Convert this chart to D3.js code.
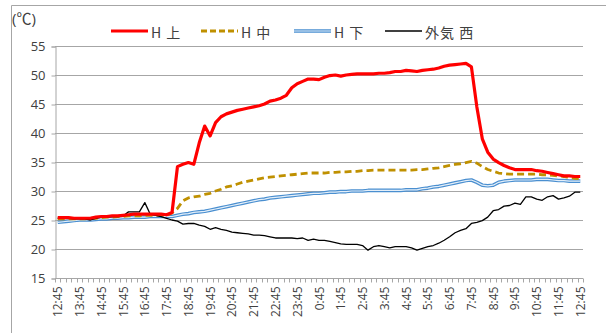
<!DOCTYPE html>
<html><head><meta charset="utf-8">
<script src="https://cdn.jsdelivr.net/npm/d3@7"></script>
<style>body{margin:0;background:#fff}svg{display:block}</style>
</head><body>
<svg id="c" width="606" height="333"></svg>
<script>
// ---- data ----
const seriesNames = ["H 上", "H 中", "H 下", "外気 西"];
const yTicks = [15, 20, 25, 30, 35, 40, 45, 50, 55];
const xTickLabels = ["12:45","13:45","14:45","15:45","16:45","17:45","18:45","19:45","20:45","21:45","22:45","23:45","0:45","1:45","2:45","3:45","4:45","5:45","6:45","7:45","8:45","9:45","10:45","11:45","12:45"];
const hUpper = [25.4,25.4,25.4,25.3,25.3,25.3,25.3,25.5,25.6,25.6,25.7,25.7,25.8,25.9,26.0,26.0,26.0,26.0,26.0,26.0,25.9,26.3,34.2,34.6,34.9,34.6,38.3,41.2,39.5,41.8,42.8,43.3,43.6,43.9,44.1,44.3,44.5,44.7,45.0,45.5,45.7,46.0,46.5,47.8,48.5,48.9,49.3,49.3,49.2,49.6,49.9,50.0,49.8,50.0,50.1,50.2,50.2,50.2,50.2,50.3,50.3,50.4,50.6,50.6,50.8,50.7,50.6,50.8,50.9,51.0,51.2,51.5,51.7,51.8,51.9,52.0,51.4,44.5,39.0,36.7,35.5,34.9,34.4,34.0,33.7,33.7,33.7,33.7,33.5,33.4,33.2,33.0,32.8,32.6,32.6,32.5,32.5];
const hMiddle = [25.2,25.2,25.2,25.2,25.2,25.2,25.3,25.3,25.4,25.5,25.5,25.6,25.6,25.7,25.7,25.7,25.8,25.8,25.8,25.8,25.8,26.2,27.0,28.3,28.8,29.0,29.1,29.4,29.6,30.0,30.3,30.7,30.9,31.2,31.5,31.7,31.9,32.1,32.3,32.4,32.5,32.6,32.7,32.8,32.9,33.0,33.1,33.1,33.1,33.1,33.2,33.2,33.3,33.3,33.4,33.4,33.5,33.5,33.6,33.6,33.6,33.6,33.6,33.6,33.6,33.6,33.7,33.7,33.8,33.9,34.0,34.2,34.4,34.6,34.7,34.9,35.1,34.8,34.2,33.7,33.4,33.1,33.0,32.9,32.9,32.9,32.9,32.9,32.9,32.8,32.8,32.7,32.6,32.5,32.3,32.2,32.1];
const hLower = [24.6,24.7,24.8,24.9,25.0,25.0,25.0,25.1,25.2,25.2,25.3,25.3,25.4,25.4,25.5,25.5,25.5,25.6,25.6,25.6,25.6,25.6,25.8,26.0,26.1,26.3,26.4,26.5,26.7,26.9,27.1,27.3,27.5,27.7,27.9,28.1,28.3,28.5,28.6,28.8,28.9,29.0,29.1,29.2,29.3,29.4,29.5,29.6,29.6,29.7,29.8,29.8,29.9,29.9,30.0,30.0,30.0,30.1,30.1,30.1,30.1,30.1,30.1,30.1,30.2,30.2,30.2,30.4,30.5,30.7,30.8,31.0,31.2,31.4,31.6,31.8,31.9,31.5,31.0,30.9,31.0,31.5,31.7,31.8,31.9,31.9,31.9,31.9,32.0,32.0,32.0,31.9,31.8,31.8,31.7,31.7,31.7];
const outsideWest = [25.3,25.3,25.3,25.2,25.2,25.2,25.0,25.3,25.5,25.5,25.6,25.6,25.7,26.4,26.4,26.4,28.0,26.0,25.8,25.6,25.3,25.0,24.8,24.3,24.4,24.4,24.1,23.9,23.4,23.7,23.4,23.2,22.9,22.8,22.7,22.6,22.4,22.4,22.3,22.1,21.9,21.9,21.9,21.9,21.8,21.9,21.5,21.7,21.5,21.5,21.3,21.1,20.9,20.8,20.8,20.8,20.6,19.8,20.4,20.6,20.4,20.2,20.4,20.4,20.4,20.2,19.8,20.1,20.4,20.6,21.0,21.5,22.1,22.8,23.2,23.5,24.4,24.6,24.9,25.5,26.6,26.8,27.4,27.5,27.9,27.7,29.0,29.0,28.6,28.4,29.0,29.2,28.6,28.8,29.1,29.8,29.8];
// categories: 15-minute steps from 12:45
const categories = [];
for (let i = 0; i < hUpper.length; i++) {
  const m = (12*60 + 45 + i*15) % (24*60);
  categories.push(Math.floor(m/60) + ":" + String(m%60).padStart(2,"0"));
}

// ---- layout ----
const svg = d3.select("#c");
const L = 55, R = 583, T = 46, B = 278;
const x = d3.scaleBand().domain(d3.range(categories.length)).range([L, R]);
const y = d3.scaleLinear().domain([15, 55]).range([B, T]);
const cx = i => x(i) + x.bandwidth()/2;
const FONT = "'Open Sans','Noto Sans CJK JP',sans-serif";
const JFONT = "'Noto Sans CJK JP','Open Sans',sans-serif";

// frame
svg.append("path").attr("d", `M11.5,333 V5.5 H606`).attr("fill","none").attr("stroke","#a6a6a6").attr("stroke-width",1);

// gridlines
svg.append("g").selectAll("line").data(yTicks.filter(v => v > 15)).join("line")
  .attr("x1", L).attr("x2", R).attr("y1", d => Math.round(y(d))+0.5).attr("y2", d => Math.round(y(d))+0.5)
  .attr("stroke", "#a6a6a6").attr("stroke-width", 1);

// y axis
const yAxis = d3.axisLeft(y).tickValues(yTicks).tickSize(4).tickPadding(6);
const gy = svg.append("g").attr("transform", `translate(${L+0.5},0.5)`).call(yAxis);
gy.select(".domain").attr("stroke","#a6a6a6");
gy.selectAll(".tick line").attr("stroke","#a6a6a6");
gy.selectAll("text").attr("font-family", FONT).attr("font-size", 13).attr("fill", "#404040");

// x axis
const labelIdx = d3.range(0, categories.length, 4);
const gx = svg.append("g").attr("transform", `translate(0,${B+0.5})`);
gx.append("line").attr("x1", L).attr("x2", R).attr("stroke", "#a6a6a6");
gx.selectAll("line.tk").data(d3.range(categories.length + 1)).join("line").attr("class","tk")
  .attr("x1", i => Math.round(L + i*x.step())+0.5).attr("x2", i => Math.round(L + i*x.step())+0.5)
  .attr("y1", 0).attr("y2", 4).attr("stroke", "#a6a6a6");
gx.selectAll("text").data(labelIdx).join("text")
  .attr("transform", (i) => `translate(${cx(i)},8) rotate(-90)`)
  .attr("text-anchor", "end").attr("dominant-baseline", "central")
  .attr("font-family", FONT).attr("font-size", 12).attr("fill", "#404040")
  .text((i, k) => xTickLabels[k]);

// unit label
svg.append("text").attr("x", 12).attr("y", 24).attr("font-family", FONT).attr("font-size", 15)
  .attr("fill", "#404040").text("(℃)");

// lines
const line = d3.line().x((d, i) => cx(i)).y(d => y(d));
const plot = svg.append("g").attr("fill", "none").attr("stroke-linejoin", "round");
plot.append("path").datum(hLower).attr("d", line).attr("stroke", "#4a8fd0").attr("stroke-width", 3.6);
plot.append("path").datum(hLower).attr("d", line).attr("stroke", "#e4eff9").attr("stroke-width", 1.2);
plot.append("path").datum(hMiddle).attr("d", line).attr("stroke", "#bf9000").attr("stroke-width", 2.8).attr("stroke-dasharray", "7,4");
plot.append("path").datum(outsideWest).attr("d", line).attr("stroke", "#000").attr("stroke-width", 1.3);
plot.append("path").datum(hUpper).attr("d", line).attr("stroke", "#ff0000").attr("stroke-width", 3.2);

// legend
const legend = [
  {name: seriesNames[0], x: 111, draw: g => g.append("line").attr("stroke","#ff0000").attr("stroke-width",3.2)},
  {name: seriesNames[1], x: 201, draw: g => g.append("line").attr("stroke","#bf9000").attr("stroke-width",2.8).attr("stroke-dasharray","6,3")},
  {name: seriesNames[2], x: 294, draw: g => { g.append("line").attr("stroke","#4a8fd0").attr("stroke-width",3.6); g.append("line").attr("stroke","#e4eff9").attr("stroke-width",1.2); }},
  {name: seriesNames[3], x: 385, draw: g => g.append("line").attr("stroke","#000").attr("stroke-width",1.3)}
];
legend.forEach(l => {
  const g = svg.append("g").attr("transform", `translate(${l.x},31)`);
  l.draw(g);
  g.selectAll("line").attr("x1", 0).attr("x2", 37).attr("y1", 0).attr("y2", 0);
  g.append("text").attr("x", 40).attr("y", 1).attr("dominant-baseline", "central")
    .attr("font-family", JFONT).attr("font-size", 14).attr("letter-spacing", 1).attr("fill", "#404040").text(l.name);
});
</script>
</body></html>
